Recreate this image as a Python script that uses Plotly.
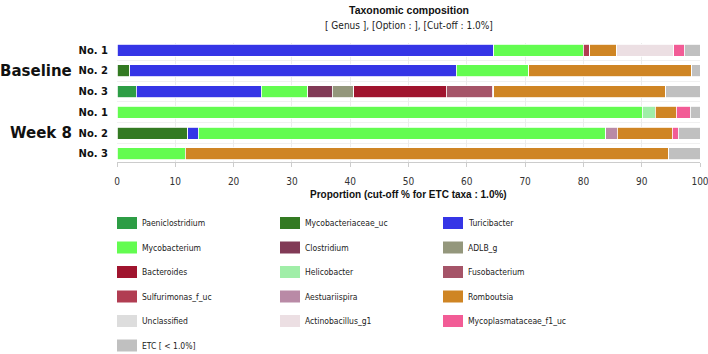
import plotly.graph_objects as go

# ---- data ----
samples = ["No. 1", "No. 2", "No. 3", "No. 1", "No. 2", "No. 3"]
groups = ["Baseline", "Week 8"]
taxa = ["Paeniclostridium", "Mycobacteriaceae_uc", "Turicibacter",
        "Mycobacterium", "Clostridium", "ADLB_g",
        "Bacteroides", "Helicobacter", "Fusobacterium",
        "Sulfurimonas_f_uc", "Aestuariispira", "Romboutsia",
        "Unclassified", "Actinobacillus_g1", "Mycoplasmataceae_f1_uc",
        "ETC [ < 1.0%]"]
colors = ["#2d9d45", "#337a22", "#3535e6",
          "#63fc50", "#813a56", "#94977c",
          "#a0142e", "#a0eea8", "#a55468",
          "#b13d52", "#b98aa6", "#cf8524",
          "#dddddd", "#ecdfe3", "#f25c96",
          "#c0c0c0"]
# values per taxon for the 6 samples (Baseline 1-3, Week 8 1-3), %
Paeniclostridium      = [0.0, 0.0, 3.3, 0.0, 0.0, 0.0]
Mycobacteriaceae_uc   = [0.0, 2.2, 0.0, 0.0, 12.1, 0.0]
Turicibacter          = [64.6, 56.0, 21.4, 0.0, 1.8, 0.0]
Mycobacterium         = [15.4, 12.4, 8.0, 90.1, 69.9, 11.7]
Clostridium           = [0.0, 0.0, 4.2, 0.0, 0.0, 0.0]
ADLB_g                = [0.0, 0.0, 3.7, 0.0, 0.0, 0.0]
Bacteroides           = [0.0, 0.0, 15.9, 0.0, 0.0, 0.0]
Helicobacter          = [0.0, 0.0, 0.0, 2.2, 0.0, 0.0]
Fusobacterium         = [0.0, 0.0, 7.9, 0.0, 0.0, 0.0]
Sulfurimonas_f_uc     = [1.1, 0.0, 0.0, 0.0, 0.0, 0.0]
Aestuariispira        = [0.0, 0.0, 0.2, 0.0, 2.0, 0.0]
Romboutsia            = [4.6, 28.0, 29.5, 3.6, 9.4, 82.9]
Unclassified          = [0.0, 0.0, 0.0, 0.0, 0.0, 0.0]
Actinobacillus_g1     = [9.8, 0.0, 0.0, 0.0, 0.0, 0.0]
Mycoplasmataceae_f1_uc = [1.8, 0.0, 0.0, 2.4, 1.1, 0.0]
ETC                   = [2.7, 1.4, 5.9, 1.7, 3.7, 5.4]
values = [Paeniclostridium, Mycobacteriaceae_uc, Turicibacter, Mycobacterium,
          Clostridium, ADLB_g, Bacteroides, Helicobacter, Fusobacterium,
          Sulfurimonas_f_uc, Aestuariispira, Romboutsia, Unclassified,
          Actinobacillus_g1, Mycoplasmataceae_f1_uc, ETC]
x_ticks = [0, 10, 20, 30, 40, 50, 60, 70, 80, 90, 100]

# ---- layout geometry (pixels) ----
W, H = 708, 354
ML, MR, MT, MB = 117, 8, 43, 192
PW = W - ML - MR
PH = H - MT - MB

def px_x(x):
    return (x - ML) / PW

def px_y(y):
    return (H - MB - y) / PH

BOLD = "DejaVu Sans"
NARROW = "Liberation Sans Narrow, DejaVu Sans Condensed, Liberation Sans, Arial"

rows = list(range(len(samples)))
fig = go.Figure()
for name, col, vals in zip(taxa, colors, values):
    fig.add_trace(go.Bar(
        x=vals, y=rows, orientation="h", name=name,
        marker=dict(color=col, line=dict(color="white", width=0.8)),
        width=0.58, showlegend=False,
    ))

# manual legend, 3 columns
col_x = [117, 280, 443]
row_y = [223, 247.5, 272, 296.5, 321, 345.5]
for i, (name, col) in enumerate(zip(taxa, colors)):
    cx = col_x[i % 3]
    cy = row_y[i // 3]
    fig.add_shape(type="rect", xref="paper", yref="paper",
                  x0=px_x(cx), x1=px_x(cx + 20), y0=px_y(cy - 6), y1=px_y(cy + 6),
                  fillcolor=col, line=dict(width=0))
    fig.add_annotation(xref="paper", yref="paper", x=px_x(cx + 23), y=px_y(cy),
                       text=name, showarrow=False, xanchor="left", yanchor="middle",
                       font=dict(family=NARROW, size=8.5, color="#222"))

# group labels
for g, yc in zip(groups, [1, 4]):
    fig.add_annotation(xref="paper", yref="y", x=px_x(74), y=yc, text="<b>%s</b>" % g,
                       showarrow=False, xanchor="right", yanchor="middle",
                       font=dict(family=BOLD, size=15, color="#111"))

# title & subtitle
fig.add_annotation(xref="paper", yref="paper", x=0.5, y=px_y(10),
                   text="<b>Taxonomic composition</b>", showarrow=False,
                   xanchor="center", yanchor="middle",
                   font=dict(family="Liberation Sans", size=10.5, color="#111"))
fig.add_annotation(xref="paper", yref="paper", x=0.5, y=px_y(25),
                   text="[ Genus ], [Option : ], [Cut-off : 1.0%]", showarrow=False,
                   xanchor="center", yanchor="middle",
                   font=dict(family=NARROW, size=10, color="#222"))
# x axis title
fig.add_annotation(xref="paper", yref="paper", x=0.5, y=px_y(194),
                   text="<b>Proportion (cut-off % for ETC taxa : 1.0%)</b>", showarrow=False,
                   xanchor="center", yanchor="middle",
                   font=dict(family="Liberation Sans", size=10, color="#111"))

fig.update_layout(
    width=W, height=H, barmode="stack", autosize=False,
    margin=dict(l=ML, r=MR, t=MT, b=MB, pad=0),
    paper_bgcolor="white", plot_bgcolor="white",
    bargap=0,
)
fig.update_xaxes(range=[0, 100], tickvals=x_ticks, showgrid=True, gridcolor="#ececec",
                 gridwidth=1, zeroline=False, showline=True, linecolor="#cccccc",
                 ticks="outside", ticklen=4, tickcolor="#cccccc", automargin=False,
                 ticklabelstandoff=6, ticklabeloverflow="allow",
                 tickfont=dict(family=NARROW, size=10, color="#333"), fixedrange=True)
fig.update_yaxes(range=[5.4, -0.35], tickvals=rows, ticktext=["<b>%s</b>" % s for s in samples],
                 showgrid=False, zeroline=False, ticks="outside", ticklen=6,
                 tickcolor="rgba(0,0,0,0)", fixedrange=True, automargin=False,
                 tickfont=dict(family=BOLD, size=10, color="#111"),
                 minor=dict(tickvals=[0.5, 1.5, 2.5, 3.5, 4.5], showgrid=True,
                            gridcolor="#f0f0f0", ticks=""))

fig.write_html("out.html",
               config={"responsive": False, "displayModeBar": False, "staticPlot": True},
               default_width="708px", default_height="354px",
               post_script="document.body.style.margin='0px';document.body.style.overflow='hidden';")
